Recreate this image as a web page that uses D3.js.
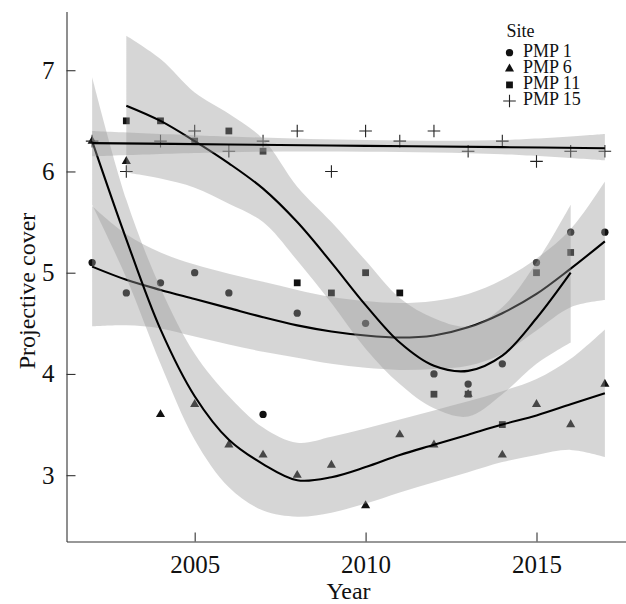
<!DOCTYPE html>
<html>
<head>
<meta charset="utf-8">
<script src="https://cdn.jsdelivr.net/npm/d3@7"></script>
<style>
  body { margin: 0; background: #fff; }
  svg text { font-family: "Liberation Serif", "Times New Roman", serif; fill: #111; }
</style>
</head>
<body>
<svg id="chart" width="626" height="604" font-family="Liberation Serif"></svg>
<script>
/////// Data ///////

var years = [2002, 2003, 2004, 2005, 2006, 2007, 2008, 2009, 2010, 2011, 2012, 2013, 2014, 2015, 2016, 2017];

// observed projective cover per site (null = no point)
var pmp1  = [5.1, 4.8, 4.9, 5.0, 4.8, 3.6, 4.6, null, 4.5, null, 4.0, 3.9, 4.1, 5.1, 5.4, 5.4];
var pmp6  = [6.3, 6.1, 3.6, 3.7, 3.3, 3.2, 3.0, 3.1, 2.7, 3.4, 3.3, 3.8, 3.2, 3.7, 3.5, 3.9];
var pmp11 = [null, 6.5, 6.5, 6.3, 6.4, 6.2, 4.9, 4.8, 5.0, 4.8, 3.8, 3.8, 3.5, 5.0, 5.2, null];
var pmp15 = [6.3, 6.0, 6.3, 6.4, 6.2, 6.3, 6.4, 6.0, 6.4, 6.3, 6.4, 6.2, 6.3, 6.1, 6.2, 6.2];

// smoothed fits and their confidence bands, sampled per year
var fit1 = [5.06, 4.93, 4.83, 4.74, 4.65, 4.56, 4.48, 4.42, 4.38, 4.36, 4.38, 4.46, 4.60, 4.79, 5.04, 5.31];
var lo1  = [4.47, 4.48, 4.45, 4.37, 4.29, 4.22, 4.16, 4.10, 4.06, 4.04, 4.05, 4.08, 4.20, 4.43, 4.66, 4.73];
var hi1  = [5.66, 5.38, 5.20, 5.08, 4.99, 4.91, 4.83, 4.76, 4.72, 4.70, 4.72, 4.79, 4.93, 5.14, 5.43, 5.90];

var fit6 = [6.30, 5.33, 4.44, 3.78, 3.35, 3.11, 2.95, 2.98, 3.08, 3.20, 3.30, 3.40, 3.50, 3.59, 3.70, 3.81];
var lo6  = [5.67, 4.95, 4.10, 3.35, 2.88, 2.65, 2.59, 2.63, 2.72, 2.83, 2.93, 3.03, 3.13, 3.20, 3.25, 3.18];
var hi6  = [6.93, 5.72, 4.85, 4.20, 3.78, 3.47, 3.32, 3.38, 3.46, 3.55, 3.64, 3.73, 3.83, 3.95, 4.15, 4.44];

var years11 = [2003, 2004, 2005, 2006, 2007, 2008, 2009, 2010, 2011, 2012, 2013, 2014, 2015, 2016];
var fit11 = [6.65, 6.50, 6.30, 6.08, 5.83, 5.50, 5.10, 4.68, 4.31, 4.08, 4.03, 4.18, 4.55, 5.00];
var lo11  = [5.99, 5.93, 5.84, 5.68, 5.50, 5.12, 4.70, 4.25, 3.90, 3.66, 3.58, 3.80, 4.10, 4.31];
var hi11  = [7.34, 7.11, 6.78, 6.57, 6.32, 5.85, 5.50, 5.12, 4.75, 4.55, 4.47, 4.66, 5.10, 5.67];

var years15 = [2002, 2006, 2010, 2014, 2017];
var fit15 = [6.28, 6.267, 6.253, 6.24, 6.23];
var lo15  = [6.15, 6.19, 6.195, 6.17, 6.11];
var hi15  = [6.40, 6.345, 6.31, 6.31, 6.37];

var sites = ["PMP 1", "PMP 6", "PMP 11", "PMP 15"];
var yTicks = [3, 4, 5, 6, 7];
var xTicks = [2005, 2010, 2015];

/////// Scales ///////

var svg = d3.select("#chart");

var x = d3.scaleLinear().domain([2001.25, 2017.75]).range([66.5, 630.5]),
    y = d3.scaleLinear().domain([2.345, 7.58]).range([541.5, 11.5]);

/////// Points (drawn first, bands go over them) ///////

var shapes = {
  "PMP 1": d3.symbol().type(d3.symbolCircle).size(42),
  "PMP 6": d3.symbol().type(d3.symbolTriangle).size(36),
  "PMP 11": d3.symbol().type(d3.symbolSquare).size(46)
};

function drawMark(g, site, cx, cy) {
  if (site == "PMP 15") {
    g.append("path")
      .attr("d", "M" + (cx - 6.3) + "," + cy + "H" + (cx + 6.3) + "M" + cx + "," + (cy - 6.3) + "V" + (cy + 6.3))
      .attr("stroke", "#222").attr("stroke-width", 1.1).attr("fill", "none");
  } else {
    g.append("path")
      .attr("d", shapes[site]())
      .attr("transform", "translate(" + cx + "," + cy + ")")
      .attr("fill", "#111");
  }
}

var series = [pmp1, pmp6, pmp11, pmp15];
var pts = svg.append("g").attr("class", "points");
series.forEach(function (vals, i) {
  vals.forEach(function (v, j) {
    if (v == null) return;
    drawMark(pts, sites[i], x(years[j]), y(v));
  });
});

/////// Smooths: ribbon then line, group by group ///////

var smooths = [
  { yr: years, fit: fit1, lo: lo1, hi: hi1 },
  { yr: years, fit: fit6, lo: lo6, hi: hi6 },
  { yr: years11, fit: fit11, lo: lo11, hi: hi11 },
  { yr: years15, fit: fit15, lo: lo15, hi: hi15 }
];

var band = d3.area()
  .curve(d3.curveCatmullRom.alpha(0.5))
  .x(function (d) { return x(d.yr); })
  .y0(function (d) { return y(d.lo); })
  .y1(function (d) { return y(d.hi); });

var line = d3.line()
  .curve(d3.curveCatmullRom.alpha(0.5))
  .x(function (d) { return x(d.yr); })
  .y(function (d) { return y(d.fit); });

var sm = svg.append("g").attr("class", "smooths");
smooths.forEach(function (s) {
  var rows = s.yr.map(function (yr, k) {
    return { yr: yr, fit: s.fit[k], lo: s.lo[k], hi: s.hi[k] };
  });
  sm.append("path").datum(rows)
    .attr("d", band)
    .attr("fill", "#999")
    .attr("fill-opacity", 0.4);
  sm.append("path").datum(rows)
    .attr("d", line)
    .attr("fill", "none")
    .attr("stroke", "#000")
    .attr("stroke-width", 2.1);
});

/////// Axes ///////

var yAxis = svg.append("g")
  .attr("transform", "translate(66.5,0)")
  .call(d3.axisLeft(y).tickValues(yTicks).tickFormat(d3.format("d"))
        .tickSize(-9).tickSizeOuter(0).tickPadding(12));

var xAxis = svg.append("g")
  .attr("transform", "translate(0,541.5)")
  .call(d3.axisBottom(x).tickValues(xTicks).tickFormat(d3.format("d"))
        .tickSize(-9).tickSizeOuter(0).tickPadding(14));

[yAxis, xAxis].forEach(function (a) {
  a.attr("font-family", "Liberation Serif").attr("font-size", 25);
  a.selectAll("path, line").attr("stroke", "#333").attr("stroke-width", 1.1);
  a.selectAll("text").attr("fill", "#111");
});

svg.append("text")
  .attr("transform", "translate(34.5,291) rotate(-90)")
  .attr("text-anchor", "middle")
  .attr("font-size", "24px")
  .text("Projective cover");

svg.append("text")
  .attr("x", 348.5).attr("y", 599)
  .attr("text-anchor", "middle")
  .attr("font-size", "24px")
  .text("Year");

/////// Legend ///////

var leg = svg.append("g").attr("class", "legend");
leg.append("text").attr("x", 506.5).attr("y", 36.5).attr("font-size", "18px").text("Site");
sites.forEach(function (s, i) {
  var yy = 56.7 + i * 16.1;
  drawMark(leg, s, 509.5, yy - 4);
  leg.append("text").attr("x", 523).attr("y", yy).attr("font-size", "18px").text(s);
});
</script>
</body>
</html>
